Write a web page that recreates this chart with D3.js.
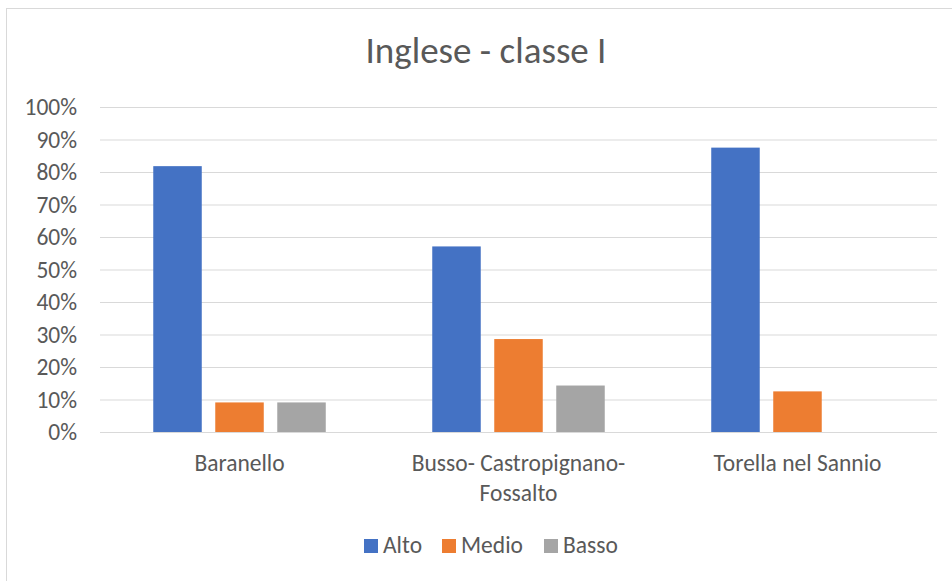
<!DOCTYPE html>
<html>
<head>
<meta charset="utf-8">
<script src="https://cdn.jsdelivr.net/npm/d3@7"></script>
<style>
  body { margin: 0; background: #fff; }
  svg text { font-family: Calibri, Carlito, Lato, sans-serif; fill: #595959; }
</style>
</head>
<body>
<div id="container"></div>
<script>
var categories = ["Baranello", "Busso- Castropignano-Fossalto", "Torella nel Sannio"];
var seriesNames = ["Alto", "Medio", "Basso"];
var alto = [0.818, 0.571, 0.875];
var medio = [0.091, 0.286, 0.125];
var basso = [0.091, 0.143, 0];
var yTicks = [0, 0.1, 0.2, 0.3, 0.4, 0.5, 0.6, 0.7, 0.8, 0.9, 1];
var colors = ["#4472c4", "#ed7d31", "#a5a5a5"];

var values = [alto, medio, basso];
var rows = categories.map(function(c, i) {
  return { cat: c, vals: seriesNames.map(function(s, j) { return { key: s, v: values[j][i] }; }) };
});

var W = 952, H = 581;
var plotLeft = 100, plotRight = 937, plotTop = 107, plotBottom = 432;

var svg = d3.select("#container").append("svg")
  .attr("width", W)
  .attr("height", H);

// chart border (runs past the right and bottom edge like the picture)
svg.append("rect")
  .attr("x", 6.5).attr("y", 8.5)
  .attr("width", 960).attr("height", 590)
  .attr("fill", "#fff")
  .attr("stroke", "#d9d9d9");

svg.append("text")
  .attr("x", 486).attr("y", 63)
  .attr("text-anchor", "middle")
  .style("font-size", "37px")
  .text("Inglese - classe I");

var y = d3.scaleLinear().domain([0, 1]).range([plotBottom, plotTop]);
var x0 = d3.scaleBand().domain(categories).range([plotLeft, plotRight])
  .paddingInner(0.3817).paddingOuter(0.1909);
var x1 = d3.scaleBand().domain(seriesNames).range([0, x0.bandwidth()])
  .paddingInner(0.2177);
var color = d3.scaleOrdinal().domain(seriesNames).range(colors);

var yAxis = svg.append("g")
  .attr("transform", "translate(" + plotLeft + ",0)")
  .call(d3.axisLeft(y).tickValues(yTicks).tickFormat(d3.format(".0%"))
    .tickSize(-(plotRight - plotLeft)).tickPadding(23));
yAxis.select(".domain").remove();
yAxis.selectAll("line").attr("stroke", "#d9d9d9");
yAxis.selectAll("text").style("font-size", "23.5px").attr("fill", "#595959");

var groups = svg.selectAll("g.cat")
  .data(rows)
  .enter()
  .append("g")
  .attr("class", "cat")
  .attr("transform", function(d) { return "translate(" + x0(d.cat) + ",0)"; });

groups.selectAll("rect")
  .data(function(d) { return d.vals; })
  .enter()
  .append("rect")
  .attr("x", function(d) { return x1(d.key); })
  .attr("width", x1.bandwidth())
  .attr("y", function(d) { return y(d.v); })
  .attr("height", function(d) { return plotBottom - y(d.v); })
  .attr("fill", function(d) { return color(d.key); });

// category labels, wrapped after hyphens when too wide
var xAxis = svg.append("g")
  .attr("transform", "translate(0," + plotBottom + ")")
  .call(d3.axisBottom(x0).tickSize(0).tickPadding(0).tickFormat(""));
xAxis.select(".domain").remove();
xAxis.selectAll(".tick").each(function(d) {
  var t = d3.select(this).append("text")
    .attr("y", 39)
    .attr("text-anchor", "middle")
    .style("font-size", "23.5px");
  var parts = d.split(/(?<=-)/);
  var lines = [];
  var cur = "";
  parts.forEach(function(p) {
    var test = cur + p;
    t.text(test);
    if (cur && t.node().getComputedTextLength() > 250) {
      lines.push(cur.trim());
      cur = p;
    } else {
      cur = test;
    }
  });
  lines.push(cur.trim());
  t.text(null);
  lines.forEach(function(l, i) {
    t.append("tspan").attr("x", 0).attr("dy", i ? 30 : 0).text(l);
  });
});

// legend
var legend = svg.append("g").attr("transform", "translate(0,553)");
var lx = [364, 442, 544];
seriesNames.forEach(function(s, i) {
  legend.append("rect")
    .attr("x", lx[i]).attr("y", -14)
    .attr("width", 14).attr("height", 14)
    .attr("fill", colors[i]);
  legend.append("text")
    .attr("x", lx[i] + 19).attr("y", 0)
    .style("font-size", "23.5px")
    .text(s);
});
</script>
</body>
</html>
